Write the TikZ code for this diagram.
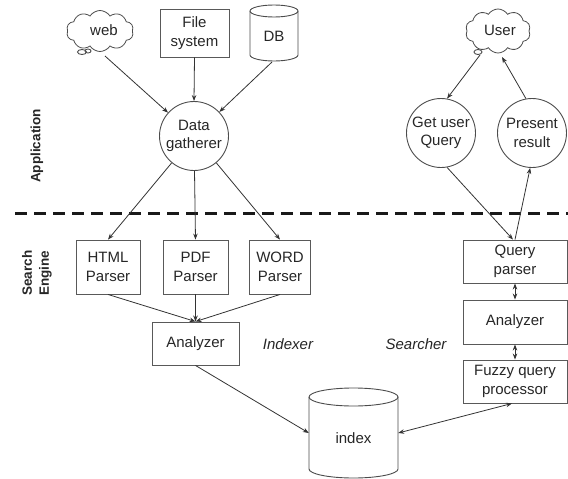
\documentclass[tikz,border=0pt]{standalone}
\usepackage{fontspec}
\setmainfont{Liberation Sans}
\usetikzlibrary{shapes.symbols,arrows.meta}
\tikzset{
  txt/.style={font=\fontsize{15}{18.5}\selectfont, align=center, text=black!85},
  boxnode/.style={txt, draw=black!65, line width=0.9pt, inner sep=0pt},
  circnode/.style={txt, draw=black!70, line width=0.9pt, circle, inner sep=0pt, minimum size=69pt},
  cloudnode/.style={txt, draw=black!70, line width=0.8pt, cloud, cloud puffs=10, cloud puff arc=115, aspect=1.7, inner sep=0pt},
  cylline/.style={draw=black!70, line width=0.9pt},
  conn/.style={draw=black!80, line width=0.8pt},
  arr/.style={conn, -{Stealth[length=6pt,width=4.5pt]}},
  darr/.style={conn, {Stealth[length=6pt,width=4.5pt]}-{Stealth[length=6pt,width=4.5pt]}},
  sidelabel/.style={font=\bfseries\fontsize{13.5}{17}\selectfont, align=center, rotate=90, text=black!85},
  itlabel/.style={font=\itshape\fontsize{15}{18}\selectfont, text=black!85}
}
\begin{document}
\begin{tikzpicture}[x=1pt,y=-1pt]
\useasboundingbox (0,0) rectangle (568,479);

% --- Application side ---
\node[cloudnode, minimum width=67pt, minimum height=41pt] (web) at (100,31) {};
\node[txt] (webtext) at (104,30) {web};
\draw[cylline] (82,52) ellipse [x radius=4.5pt, y radius=2.5pt];
\draw[cylline] (88,51) ellipse [x radius=3pt, y radius=2pt];
\coordinate (webbub) at (105,56);

\node[boxnode, minimum width=69pt, minimum height=48pt] (fs) at (194.5,33) {File\\system};

% DB cylinder
\node[minimum width=48pt, minimum height=56pt, inner sep=0pt] (db) at (274,33) {};
\draw[cylline, fill=white] (250,11) -- (250,55) arc[start angle=180, end angle=360, x radius=24pt, y radius=6pt] -- (298,11);
\draw[cylline] (274,11) ellipse [x radius=24pt, y radius=6pt];
\node[txt] (dbtext) at (274,36) {DB};

\node[circnode] (dg) at (194,136) {Data\\gatherer};

\node[sidelabel] (applabel) at (37,146) {Application};
\node[sidelabel] (selabel) at (37,273) {Search\\Engine};

\draw[arr] (webbub) -- (dg);
\draw[arr] (fs.south) -- (dg.north);
\draw[arr] (272,62) -- (dg);

% dashed separator
\coordinate (dashL) at (15,213);
\coordinate (dashR) at (568,213);
\draw[black!90, line width=3pt, dash pattern=on 12pt off 7pt] (dashL) -- (dashR);

% parsers
\node[boxnode, minimum width=64pt, minimum height=54pt] (html) at (108,267) {HTML\\Parser};
\node[boxnode, minimum width=65pt, minimum height=54pt] (pdf) at (195.5,267) {PDF\\Parser};
\node[boxnode, minimum width=61pt, minimum height=54pt] (word) at (280,267) {WORD\\Parser};
\node[boxnode, minimum width=87pt, minimum height=43pt] (ana) at (195.5,343.5) {Analyzer};

\draw[arr] (dg) -- (html.north);
\draw[arr] (dg) -- (pdf.north);
\draw[arr] (dg) -- (word.north);
\draw[arr] (html.south) -- (ana.north);
\draw[arr] (pdf.south) -- (ana.north);
\draw[arr] (word.south) -- (ana.north);

\node[itlabel] (indexer) at (288,344) {Indexer};
\node[itlabel] (searcher) at (416,344) {Searcher};

% index cylinder
\node[minimum width=89pt, minimum height=90pt, inner sep=0pt] (idx) at (353.5,433) {};
\draw[cylline, fill=white] (309,397) -- (309,469) arc[start angle=180, end angle=360, x radius=44.5pt, y radius=9pt] -- (398,397);
\draw[cylline] (353.5,397) ellipse [x radius=44.5pt, y radius=9pt];
\node[txt] (idxtext) at (353.5,438) {index};

\draw[arr] (ana.south) -- (idx.west);

% --- Searcher side ---
\node[cloudnode, minimum width=65pt, minimum height=44pt] (user) at (498,31) {};
\node[txt] (usertext) at (500,30) {User};
\draw[cylline] (478,52) ellipse [x radius=4pt, y radius=2.5pt];
\coordinate (userbub) at (480,55);
\coordinate (userin) at (502,57);

\node[circnode] (gq) at (441,133) {Get user\\Query};
\node[circnode] (pr) at (532,133) {Present\\result};

\node[boxnode, minimum width=104pt, minimum height=43pt] (qp) at (515,261.5) {Query\\parser};
\node[boxnode, minimum width=104pt, minimum height=44pt] (ana2) at (515,322) {Analyzer};
\node[boxnode, minimum width=104pt, minimum height=43pt] (fz) at (515,381.5) {Fuzzy query\\processor};

\draw[arr] (userbub) -- (gq.80);
\draw[arr] (pr.100) -- (userin);
\draw[arr] (gq.-80) -- ([xshift=-2pt]qp.north);
\draw[arr] (qp.north) -- (pr.-93);

\draw[darr] (qp.south) -- (ana2.north);
\draw[darr] (ana2.south) -- (fz.north);
\draw[darr] ([xshift=-3pt]fz.south) -- (idx.east);
\end{tikzpicture}
\end{document}
